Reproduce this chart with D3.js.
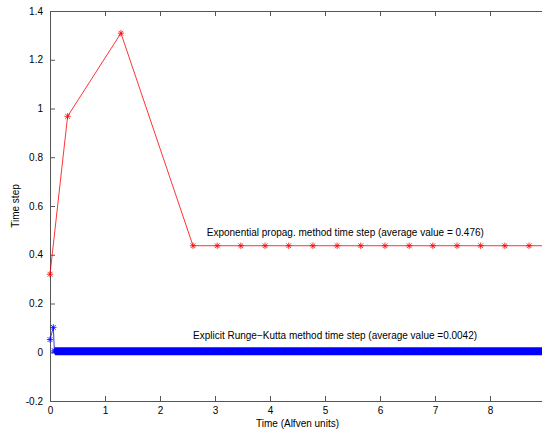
<!DOCTYPE html>
<html>
<head>
<meta charset="utf-8">
<script src="https://cdn.jsdelivr.net/npm/d3@7"></script>
<style>
  body { margin: 0; background: #fff; }
  svg { display: block; font-family: "Liberation Sans", Arial, sans-serif; }
  .tick text { font-size: 10px; fill: #000; }
</style>
</head>
<body>
<div id="chart"></div>
<script>
// exponential propagator: time and time step at each step
let expTime = [0, 0.32, 1.29, 2.60, 3.04, 3.47, 3.91, 4.34, 4.78, 5.22, 5.65, 6.09, 6.53, 6.96, 7.40, 7.83, 8.27, 8.71, 9.14];
let expStep = [0.32, 0.968, 1.309, 0.437, 0.437, 0.437, 0.437, 0.437, 0.437, 0.437, 0.437, 0.437, 0.437, 0.437, 0.437, 0.437, 0.437, 0.437, 0.437];

// explicit Runge-Kutta: first steps, then thousands of tiny steps that merge into a band
let rkTime = [0, 0.06, 0.08, 0.09];
let rkStep = [0.052, 0.102, 0.006, 0.0042];
let rkBandTime = [0.09, 9.2];
let rkBandStep = [0.0042, 0.0042];

let xTicks = [0, 1, 2, 3, 4, 5, 6, 7, 8];
let yTicks = [-0.2, 0, 0.2, 0.4, 0.6, 0.8, 1, 1.2, 1.4];

let labels = [
  {text: "Exponential propag. method time step (average value = 0.476)", t: 2.85, v: 0.49},
  {text: "Explicit Runge\u2212Kutta method time step (average value =0.0042)", t: 2.6, v: 0.07}
];

let width = 542, height = 434;
let margin = {top: 11, right: -3, bottom: 33, left: 50};

let svg = d3.select("#chart").append("svg")
  .attr("width", width)
  .attr("height", height);

let x = d3.scaleLinear().domain([0, 9]).range([margin.left, width - margin.right]);
let y = d3.scaleLinear().domain([-0.2, 1.4]).range([height - margin.bottom, margin.top]);

// axes with inward ticks, MATLAB box style
let fmt = d => d3.format("")(d).replace("\u2212", "-");

svg.append("g")
  .attr("transform", "translate(0," + y(-0.2) + ")")
  .call(d3.axisBottom(x).tickValues(xTicks).tickSizeInner(-5).tickSizeOuter(0).tickPadding(6).tickFormat(fmt));

svg.append("g")
  .attr("transform", "translate(0," + y(1.4) + ")")
  .call(d3.axisTop(x).tickValues(xTicks).tickSizeInner(-5).tickSizeOuter(0).tickFormat(""));

svg.append("g")
  .attr("transform", "translate(" + x(0) + ",0)")
  .call(d3.axisLeft(y).tickValues(yTicks).tickSizeInner(-5).tickSizeOuter(0).tickPadding(7).tickFormat(fmt));

svg.selectAll(".domain").attr("stroke", "#555").attr("stroke-width", 1);
svg.selectAll(".tick line").attr("stroke", "#555");

// data lines
let line = d3.line().x(d => x(d[0])).y(d => y(d[1]));
let expData = d3.zip(expTime, expStep);
let rkData = d3.zip(rkTime, rkStep);
let bandData = d3.zip(rkBandTime, rkBandStep);

let g = svg.append("g");

g.append("path")
  .datum(bandData)
  .attr("d", line)
  .attr("fill", "none")
  .attr("stroke", "#0000ff")
  .attr("stroke-width", 8);

g.append("path")
  .datum(rkData)
  .attr("d", line)
  .attr("fill", "none")
  .attr("stroke", "#0000ff")
  .attr("stroke-width", 0.8);

g.append("path")
  .datum(expData)
  .attr("d", line)
  .attr("fill", "none")
  .attr("stroke", "#ff0000")
  .attr("stroke-width", 0.8);

// star markers
function star(sel, color) {
  let s = 3.2;
  sel.append("path")
    .attr("d", `M${-s},0H${s}M0,${-s}V${s}M${-s*0.75},${-s*0.75}L${s*0.75},${s*0.75}M${-s*0.75},${s*0.75}L${s*0.75},${-s*0.75}`)
    .attr("stroke", color)
    .attr("stroke-width", 0.8)
    .attr("fill", "none");
}

g.selectAll(".rk-mark").data(rkData).enter().append("g")
  .attr("class", "rk-mark")
  .attr("transform", d => "translate(" + x(d[0]) + "," + y(d[1]) + ")")
  .call(star, "#0000ff");

g.selectAll(".exp-mark").data(expData).enter().append("g")
  .attr("class", "exp-mark")
  .attr("transform", d => "translate(" + x(d[0]) + "," + y(d[1]) + ")")
  .call(star, "#ff0000");

// annotations
svg.selectAll(".note").data(labels).enter().append("text")
  .attr("class", "note")
  .attr("x", d => x(d.t))
  .attr("y", d => y(d.v))
  .attr("dy", "0.35em")
  .attr("font-size", 10)
  .text(d => d.text);

// axis titles
svg.append("text")
  .attr("x", (x(0) + x(9)) / 2)
  .attr("y", 427)
  .attr("text-anchor", "middle")
  .attr("font-size", 10)
  .text("Time (Alfven units)");

svg.append("text")
  .attr("transform", "translate(19," + (y(-0.2) + y(1.4)) / 2 + ") rotate(-90)")
  .attr("text-anchor", "middle")
  .attr("font-size", 10)
  .text("Time step");
</script>
</body>
</html>
